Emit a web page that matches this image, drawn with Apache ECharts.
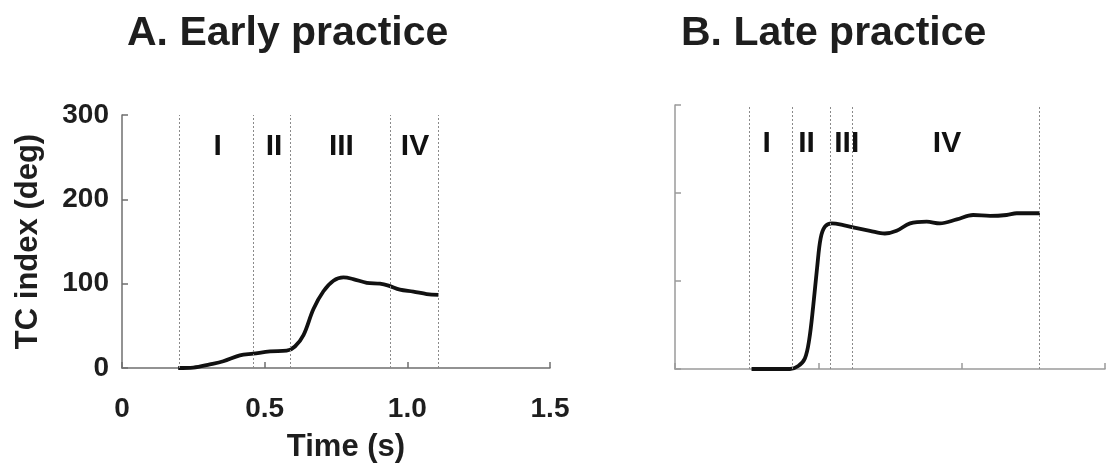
<!DOCTYPE html>
<html>
<head>
<meta charset="utf-8">
<script src="https://cdn.jsdelivr.net/npm/echarts@6/dist/echarts.min.js"></script>
<style>
  html, body { margin: 0; padding: 0; background: #fff; }
  #chart { width: 1109px; height: 468px; }
</style>
</head>
<body>
<div id="chart"></div>
<script>
// TC index traces (time in s, angle in deg)
const earlyTime = [0.197, 0.25, 0.308, 0.355, 0.413, 0.46, 0.519, 0.577, 0.606, 0.636, 0.671, 0.706, 0.741, 0.776, 0.81, 0.858, 0.904, 0.934, 0.974, 1.021, 1.068, 1.109];
const earlyTC   = [0, 0.5, 4.3, 8, 15, 17, 19.7, 20.5, 25.5, 39, 70, 91, 103.5, 107.4, 105.5, 101, 100, 97.7, 93, 90.7, 87.7, 86.6];

const lateTime = [0.267, 0.401, 0.43, 0.453, 0.468, 0.482, 0.496, 0.508, 0.523, 0.547, 0.587, 0.634, 0.68, 0.732, 0.773, 0.82, 0.878, 0.924, 0.983, 1.04, 1.099, 1.157, 1.192, 1.273];
const lateTC   = [0, 0, 3.4, 12, 33, 71, 116, 148.5, 161.7, 165.5, 163.6, 160, 157, 154, 157, 165.5, 167.4, 165.5, 170, 175, 174, 175, 177, 177];

// Phase boundaries (s)
const earlyBounds = [0.196, 0.455, 0.592, 0.936, 1.106];
const lateBounds  = [0.264, 0.405, 0.538, 0.622, 1.273];

// Phase names and where they sit
const phaseNames = ['I', 'II', 'III', 'IV'];
const earlyPhaseTime = [0.335, 0.533, 0.769, 1.027];
const earlyPhaseTC   = [262, 262, 262, 262];
const latePhaseTime  = [0.32, 0.459, 0.599, 0.949];
const latePhaseTC    = [256, 256, 256, 256];

// Axis ticks
const xTicks = [0, 0.5, 1.0, 1.5];
const xTickLabels = ['0', '0.5', '1.0', '1.5'];
const yTicks = [0, 100, 200, 300];
const yTickLabels = ['0', '100', '200', '300'];

const titles = ['A. Early practice', 'B. Late practice'];
const xName = 'Time (s)';
const yName = 'TC index (deg)';

const FONT = '"Liberation Sans", Arial, Helvetica, sans-serif';
const INK = '#1e1e1e';

const pairs = (xs, ys) => xs.map((x, i) => [x, ys[i]]);
const labelFor = (ticks, labels) => v => {
  const i = ticks.findIndex(t => Math.abs(t - v) < 1e-9);
  return i >= 0 ? labels[i] : '';
};

function xAxisFor(gridIndex, showLabels, axisColor) {
  return {
    type: 'value', gridIndex, min: 0, max: 1.5, interval: 0.5,
    name: showLabels ? xName : '',
    nameLocation: 'middle', nameGap: 64,
    nameTextStyle: { fontFamily: FONT, fontWeight: 'bold', fontSize: 31, color: INK, padding: [0, 0, 0, 20] },
    axisLine: { show: true, onZero: false, lineStyle: { color: axisColor, width: 1.5 } },
    axisTick: { show: true, inside: true, length: 6, lineStyle: { color: axisColor, width: 1.5 } },
    axisLabel: { show: showLabels, margin: 27, fontFamily: FONT, fontWeight: 'bold', fontSize: 28, color: INK,
                 formatter: labelFor(xTicks, xTickLabels) },
    splitLine: { show: false }
  };
}
function yAxisFor(gridIndex, showLabels, axisColor) {
  return {
    type: 'value', gridIndex, min: 0, max: 300, interval: 100,
    name: showLabels ? yName : '',
    nameLocation: 'middle', nameGap: 78, nameRotate: 90,
    nameTextStyle: { fontFamily: FONT, fontWeight: 'bold', fontSize: 31, color: INK },
    axisLine: { show: true, onZero: false, lineStyle: { color: axisColor, width: 1.5 } },
    axisTick: { show: true, inside: true, length: 6, lineStyle: { color: axisColor, width: 1.5 } },
    axisLabel: { show: showLabels, margin: 13, fontFamily: FONT, fontWeight: 'bold', fontSize: 28, color: INK,
                 formatter: labelFor(yTicks, yTickLabels) },
    splitLine: { show: false }
  };
}

function boundsLines(bounds) {
  return {
    silent: true, symbol: 'none', animation: false,
    label: { show: false },
    lineStyle: { type: [2, 2], color: '#8a8a8a', width: 1 },
    data: bounds.map(b => ({ xAxis: b }))
  };
}

function traceSeries(idx, xs, ys, bounds) {
  return {
    type: 'line', xAxisIndex: idx, yAxisIndex: idx,
    data: pairs(xs, ys), smooth: 0.35, showSymbol: false,
    lineStyle: { color: '#111', width: 3.8 },
    markLine: boundsLines(bounds),
    animation: false, z: 3
  };
}

function phaseSeries(idx, xs, ys) {
  return {
    type: 'scatter', xAxisIndex: idx, yAxisIndex: idx,
    symbolSize: 1,
    itemStyle: { color: 'rgba(0,0,0,0)', opacity: 1 },
    data: xs.map((x, i) => ({ value: [x, ys[i]], name: phaseNames[i] })),
    label: { show: true, position: 'inside', formatter: p => p.name, opacity: 1,
             fontFamily: FONT, fontWeight: 'bold', fontSize: 30, color: '#111',
             textBorderWidth: 0 },
    animation: false, z: 4
  };
}

const chart = echarts.init(document.getElementById('chart'), null, { renderer: 'canvas' });
chart.setOption({
  backgroundColor: '#fff',
  title: [
    { text: titles[0], left: 122, top: 8, textStyle: { fontFamily: FONT, fontWeight: 'bold', fontSize: 41, color: INK } },
    { text: titles[1], left: 676, top: 8, textStyle: { fontFamily: FONT, fontWeight: 'bold', fontSize: 41, color: INK } }
  ],
  grid: [
    { left: 122, top: 115, width: 428, height: 263 },
    { left: 675, top: 105, width: 430, height: 264 }
  ],
  xAxis: [xAxisFor(0, true, '#6f6f6f'), xAxisFor(1, false, '#9a9a9a')],
  yAxis: [yAxisFor(0, true, '#6f6f6f'), yAxisFor(1, false, '#9a9a9a')],
  series: [
    traceSeries(0, earlyTime, earlyTC, earlyBounds),
    traceSeries(1, lateTime, lateTC, lateBounds),
    phaseSeries(0, earlyPhaseTime, earlyPhaseTC),
    phaseSeries(1, latePhaseTime, latePhaseTC)
  ]
});
</script>
</body>
</html>
